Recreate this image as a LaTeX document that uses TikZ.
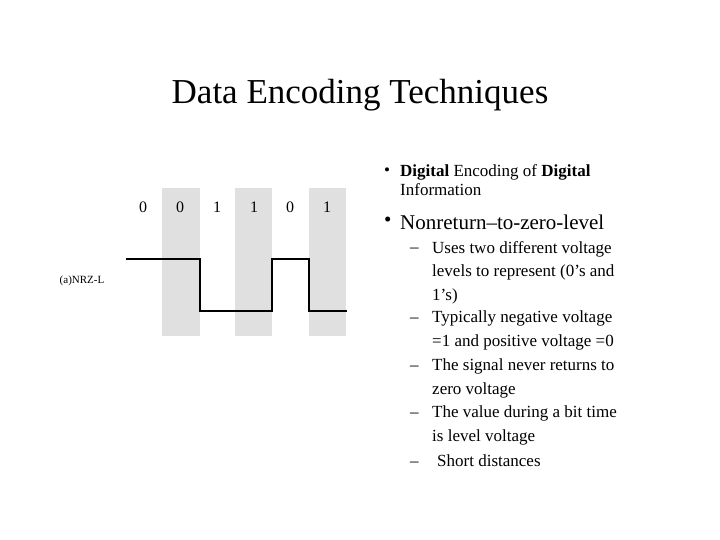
\documentclass[tikz,border=0pt]{standalone}
\usepackage{fontspec}
\setmainfont{Liberation Serif}[BoldFont={Liberation Serif Bold}]
\begin{document}
\begin{tikzpicture}[x=1pt,y=-1pt,
  band/.style={fill=black!12,draw=none},
  sig/.style={line width=2.8pt},
  bit/.style={font=\fontsize{16}{16}\selectfont},
  txt/.style={anchor=west,font=\fontsize{17}{18.5}\selectfont,inner sep=0pt},
  blk/.style={anchor=north west,align=left,font=\fontsize{17}{23.5}\selectfont,inner sep=0pt},
  big/.style={anchor=west,font=\fontsize{21}{22}\selectfont,inner sep=0pt}]
\useasboundingbox (0,0) rectangle (720,540);
\fill[band] (162,188) rectangle (200,336);
\fill[band] (235,188) rectangle (272,336);
\fill[band] (309,188) rectangle (346,336);
\foreach \x/\b [count=\i] in {143/0,180/0,217/1,254/1,290/0,327/1}
  \node[bit] (b\i) at (\x,207) {\b};
\coordinate (s0) at (126,259);
\draw[sig] (s0) -- (200,259) -- (200,311) -- (272,311) -- (272,259) -- (309,259) -- (309,311) -- (347,311);
\node[font=\fontsize{11}{11}\selectfont] (lab) at (82,281) {(a)NRZ-L};
\node[font=\fontsize{35}{35}\selectfont] (title) at (360,95) {Data Encoding Techniques};
\node[txt] (d1) at (384,172) {•};
\node[blk,font=\fontsize{17}{19}\selectfont] (t1) at (400,164) {\textbf{Digital} Encoding of \textbf{Digital}\\Information};
\node[big] (d2) at (384,222) {•};
\node[big] (t2) at (400,222) {Nonreturn–to-zero-level};
\foreach \y in {250,320,368,415,464} \node[txt] at (410,\y) {–};
\node[blk] (i1) at (432,241) {Uses two different voltage\\levels to represent (0’s and\\1’s)};
\node[blk] (i2) at (432,311) {Typically negative voltage\\=1 and positive voltage =0};
\node[blk] (i3) at (432,359) {The signal never returns to\\zero voltage};
\node[blk] (i4) at (432,406) {The value during a bit time\\is level voltage};
\node[blk] (i5) at (437,455) {Short distances};
\end{tikzpicture}
\end{document}
